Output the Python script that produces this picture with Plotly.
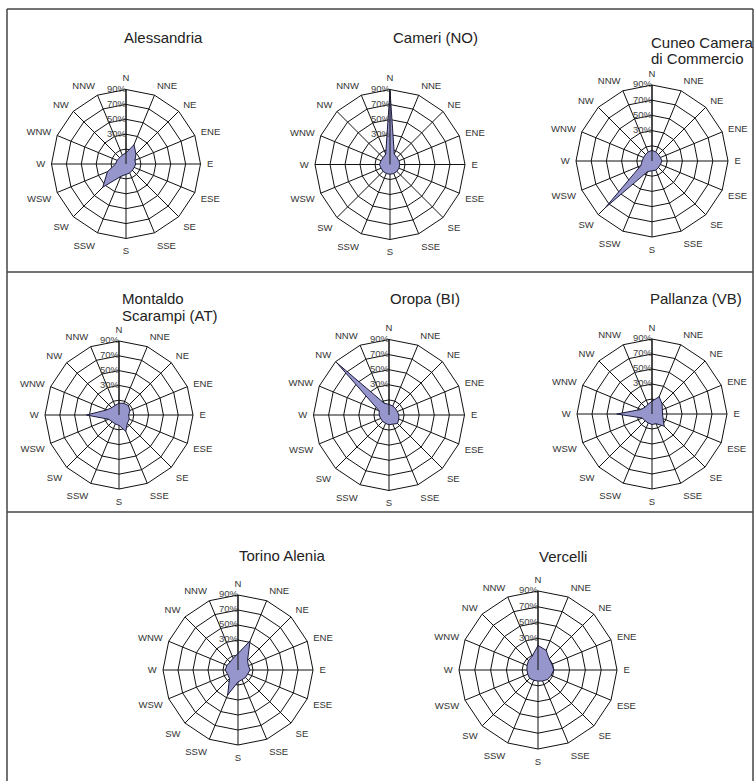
import plotly.graph_objects as go

# Wind direction sectors (16-point compass rose)
directions = ["N", "NNE", "NE", "ENE", "E", "ESE", "SE", "SSE",
              "S", "SSW", "SW", "WSW", "W", "WNW", "NW", "NNW"]

# Frequency of each direction (%) per station
alessandria = [5, 18, 9, 3, 3, 2, 2, 3, 4, 8, 34, 17, 4, 3, 2, 3]
cameri = [88, 5, 3, 3, 3, 3, 3, 3, 3, 3, 3, 3, 4, 3, 3, 5]
cuneo = [4, 3, 2, 2, 3, 2, 2, 3, 3, 5, 77, 6, 3, 2, 2, 3]
montaldo = [6, 7, 8, 6, 3, 5, 6, 14, 4, 3, 3, 5, 34, 8, 4, 4]
oropa = [4, 3, 2, 2, 3, 4, 6, 3, 3, 2, 2, 2, 3, 4, 88, 7]
pallanza = [7, 15, 9, 5, 4, 6, 13, 4, 4, 3, 3, 4, 37, 6, 3, 4]
torino = [12, 32, 8, 5, 6, 4, 4, 4, 6, 26, 6, 5, 7, 6, 5, 7]
vercelli = [21, 17, 10, 9, 10, 8, 7, 5, 4, 4, 5, 4, 4, 5, 7, 9]

station_titles = [["Alessandria"], ["Cameri (NO)"], ["Cuneo Camera", "di Commercio"],
                  ["Montaldo", "Scarampi (AT)"], ["Oropa (BI)"], ["Pallanza (VB)"],
                  ["Torino Alenia"], ["Vercelli"]]
station_values = [alessandria, cameri, cuneo, montaldo, oropa, pallanza,
                  torino, vercelli]

radial_ticks = [-10, 10, 30, 50, 70, 90]
radial_labels = [f"{v}%" for v in radial_ticks]

W, H = 755, 781
# Chart placement in pixels: centre x, centre y, radius,
# title left x, first title line centre y, title line pitch
placement = [
    (126, 164, 74.5, 122, 38, 0),
    (390, 164.5, 75, 391, 38, 0),
    (652, 161, 76, 649, 42.5, 16),
    (119, 415, 74, 120, 298, 18),
    (389, 415, 75.5, 388, 298, 0),
    (652, 414, 75, 648, 298, 0),
    (238, 670, 75, 237, 555, 0),
    (538, 670, 79, 537, 556, 0),
]

FONT = "Liberation Sans, Arial, sans-serif"
fig = go.Figure()
layout = dict(
    width=W, height=H,
    margin=dict(l=0, r=0, t=0, b=0),
    paper_bgcolor="white",
    plot_bgcolor="white",
    showlegend=False,
    font=dict(family=FONT, color="#222"),
)

annotations = []
for i, (vals, title, (cx, cy, R, tx, ty, pitch)) in enumerate(
        zip(station_values, station_titles, placement)):
    key = "polar" if i == 0 else f"polar{i + 1}"
    fig.add_trace(go.Scatterpolar(
        r=vals + vals[:1],
        theta=directions + directions[:1],
        mode="lines",
        fill="toself",
        fillcolor="rgb(150,150,204)",
        line=dict(color="#1c1c3c", width=1),
        subplot=key,
        hoverinfo="r+theta",
    ))
    # value-axis labels written along the north spoke
    fig.add_trace(go.Scatterpolar(
        r=radial_ticks,
        theta=[directions[0]] * len(radial_ticks),
        mode="text",
        text=radial_labels,
        textposition="middle left",
        textfont=dict(size=9.5, color="#444", family=FONT),
        subplot=key,
        hoverinfo="skip",
        cliponaxis=False,
    ))
    layout[key] = dict(
        domain=dict(x=[(cx - R) / W, (cx + R) / W],
                    y=[1 - (cy + R) / H, 1 - (cy - R) / H]),
        bgcolor="white",
        gridshape="linear",
        angularaxis=dict(
            type="category",
            categoryarray=directions,
            direction="clockwise",
            rotation=90,
            showgrid=True, gridcolor="#111", gridwidth=1,
            showline=True, linecolor="#111", linewidth=1,
            ticks="outside", ticklen=4, tickcolor="rgba(0,0,0,0)",
            tickfont=dict(size=9.5, color="#333", family=FONT),
        ),
        radialaxis=dict(
            range=[-10, 90],
            tickvals=radial_ticks,
            showticklabels=False,
            angle=90,
            showgrid=True, gridcolor="#111", gridwidth=1,
            showline=True, linecolor="#111", linewidth=1,
            ticks="",
        ),
    )
    for j, line in enumerate(title):
        annotations.append(dict(
            text=line, x=tx / W, y=1 - (ty + j * pitch) / H,
            xref="paper", yref="paper",
            xanchor="left", yanchor="middle", align="left", showarrow=False,
            font=dict(size=15, color="#222", family=FONT),
        ))

layout["annotations"] = annotations

# Frame and row separators
line_style = dict(color="#444", width=1.5)
layout["shapes"] = [
    dict(type="line", xref="paper", yref="paper",
         x0=7 / W, x1=7 / W, y0=0, y1=1 - 9 / H, line=line_style),
    dict(type="line", xref="paper", yref="paper",
         x0=7 / W, x1=753 / W, y0=1 - 9 / H, y1=1 - 9 / H, line=line_style),
    dict(type="line", xref="paper", yref="paper",
         x0=753 / W, x1=753 / W, y0=0, y1=1 - 9 / H, line=line_style),
    dict(type="line", xref="paper", yref="paper",
         x0=7 / W, x1=753 / W, y0=1 - 272 / H, y1=1 - 272 / H, line=line_style),
    dict(type="line", xref="paper", yref="paper",
         x0=7 / W, x1=753 / W, y0=1 - 512 / H, y1=1 - 512 / H, line=line_style),
]

fig.update_layout(**layout)
fig.write_html("out.html")
